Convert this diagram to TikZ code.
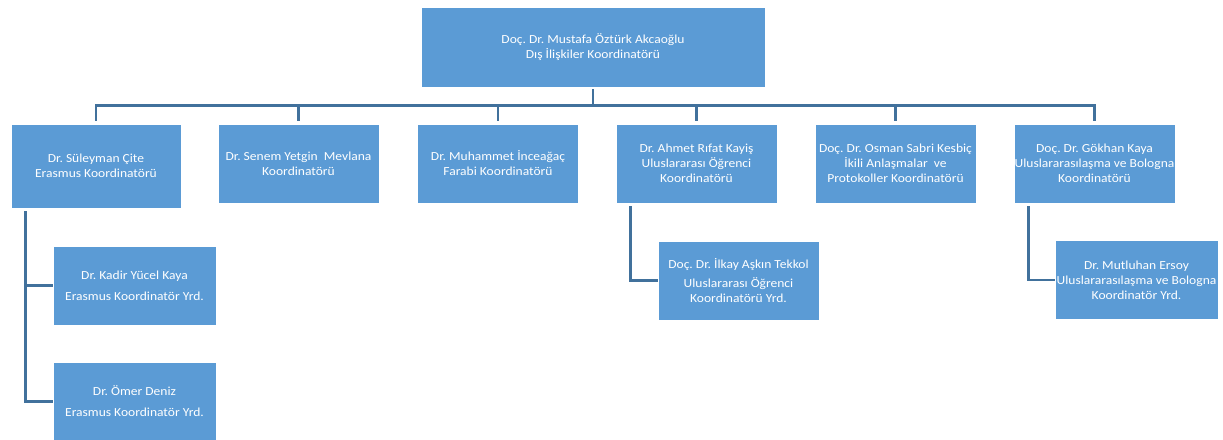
\documentclass[tikz,border=0pt]{standalone}
\usepackage{fontspec}
\setmainfont{Carlito}[FakeStretch=1.1]
\usepackage{tikz}
\definecolor{boxblue}{RGB}{91,155,213}
\definecolor{linkblue}{RGB}{65,113,156}
\frenchspacing
\begin{document}
\begin{tikzpicture}[x=1pt,y=-1pt,
    box/.style={fill=boxblue, draw=white, line width=0.6pt, text=white, align=center,
                inner sep=0pt, minimum width=161, minimum height=79,
                font=\fontsize{12.3}{15}\selectfont},
    link/.style={draw=linkblue, line width=2.6pt}]
          \useasboundingbox (0,0) rectangle (1223,439);
          \node[box, minimum width=344, minimum height=80] (top) at (593,47)
                {Doç. Dr. Mustafa Öztürk Akcaoğlu\\Dış İlişkiler Koordinatörü};
          % second row
          \node[box, minimum width=170, minimum height=84] (erasmus) at (96,166)
                {Dr. Süleyman Çite\\Erasmus Koordinatörü};
          \node[box] (mevlana) at (298.5,163.5) {Dr. Senem Yetgin\ \ Mevlana\\Koordinatörü};
          \node[box] (farabi) at (498,163.5) {Dr. Muhammet İnceağaç\\Farabi Koordinatörü};
          \node[box] (ogrenci) at (696.5,163.5)
                {Dr. Ahmet Rıfat Kayiş\\Uluslararası Öğrenci\\Koordinatörü};
          \node[box] (ikili) at (895.5,163.5)
                {Doç. Dr. Osman Sabri Kesbiç\\İkili Anlaşmalar\ \ ve\\Protokoller Koordinatörü};
          \node[box] (bologna) at (1094.5,163.5)
                {Doç. Dr. Gökhan Kaya\\Uluslararasılaşma ve Bologna\\Koordinatörü};
          % assistants
          \node[box, minimum width=163] (kadir) at (134.5,285.5)
                {Dr. Kadir Yücel Kaya\\[6pt]Erasmus Koordinatör Yrd.};
          \node[box, minimum width=163] (omer) at (134.5,401.5)
                {Dr. Ömer Deniz\\[6pt]Erasmus Koordinatör Yrd.};
          \node[box] (ilkay) at (738.5,280.5)
                {Doç. Dr. İlkay Aşkın Tekkol\\[4pt]Uluslararası Öğrenci\\Koordinatörü Yrd.};
          \node[box, minimum width=163] (mutluhan) at (1136.5,280)
                {Dr. Mutluhan Ersoy\\Uluslararasılaşma ve Bologna\\Koordinatör Yrd.};
          \foreach \n in {erasmus,mevlana,farabi,ogrenci,ikili,bologna}
                \draw[link, shorten <=2pt, shorten >=3pt] (top.south) -- ++(0,18) -| (\n.north);
          \draw[link, shorten <=3pt] (erasmus.south west) ++(15,0) |- (kadir.west);
          \draw[link, shorten <=3pt] (erasmus.south west) ++(15,0) |- (omer.west);
          \draw[link, shorten <=3pt] (ogrenci.south west) ++(15,0) |- (ilkay.west);
          \draw[link, shorten <=3pt] (bologna.south west) ++(15,0) |- (mutluhan.west);
        \end{tikzpicture}
\end{document}
